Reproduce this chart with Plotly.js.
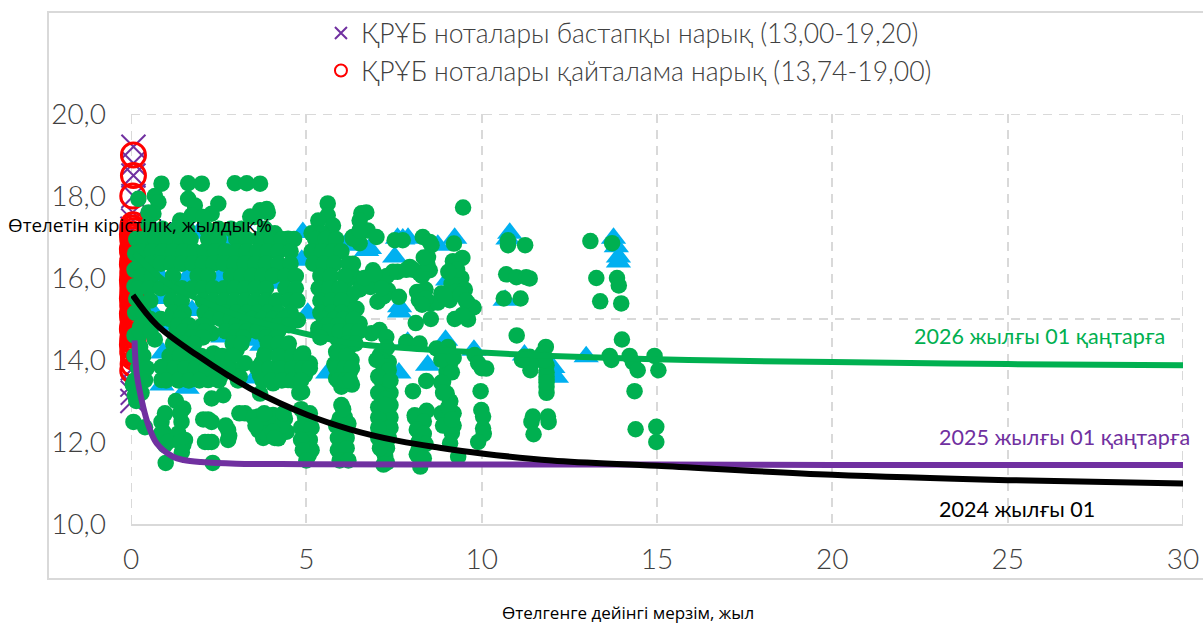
<!DOCTYPE html>
<html><head><meta charset="utf-8"><script src="https://cdn.plot.ly/plotly-3.0.1.min.js"></script>
<style>html,body{margin:0;padding:0;background:#fff;overflow:hidden}</style></head>
<body><div id="chart" style="width:1203px;height:623px"></div>
<script>
const curve2026X=[0.1,1,2,3,4.2,5.7,6.24,8,10,12,15.9,20,25,30];
const curve2026Y=[16.6,15.9,15.45,15.1,14.8,14.5,14.41,14.28,14.18,14.1,14.0,13.95,13.9,13.87];
const curve2025X=[0.1,0.16,0.35,0.5,0.73,1.2,1.5,2,3,5,10,15,20,25,30];
const curve2025Y=[14.48,13.68,12.85,12.4,11.97,11.64,11.56,11.51,11.47,11.46,11.45,11.45,11.44,11.44,11.44];
const curve2024X=[0.05,0.74,1.88,3.39,5,6.24,7.66,8.8,10,12,15,20,25,30];
const curve2024Y=[15.58,14.85,14.12,13.31,12.67,12.31,12.02,11.86,11.72,11.55,11.42,11.2,11.07,10.99];
const redX=[0.07,0.07,0.05,0.06,0.05,0.07,0.04,0.06,0.05,0.07,0.06,0.04,0.05,0.07,0.06,0.05,0.04,0.07,0.06,0.05,0.07,0.04,0.06,0.05,0.07,0.05,0.06,0.04,0.07,0.05,0.06,0.07,0.04,0.05,0.06,0.07,0.05,0.04,0.06,0.07,0.05,0.06,0.04,0.07,0.05,0.06,0.07,0.06,0.05];
const redY=[19.0,18.5,18.0,17.3,17.22,17.15,17.07,17.0,16.93,16.85,16.78,16.7,16.62,16.55,16.47,16.4,16.33,16.25,16.18,16.1,16.03,15.95,15.88,15.8,15.73,15.65,15.58,15.5,15.43,15.35,15.28,15.2,15.13,15.05,14.98,14.9,14.83,14.75,14.68,14.6,14.52,14.45,14.37,14.3,14.22,14.15,14.07,13.9,13.74];
const purpleX=[0.07,0.07,0.07,0.07,0.05,0.06,0.04,0.05,0.06,0.05,0.04,0.06,0.05,0.04,0.05,0.04];
const purpleY=[19.2,18.8,18.5,18.0,17.6,17.4,17.2,17.0,16.8,16.5,16.2,15.9,13.8,13.4,13.2,13.0];
const blueX=[10.8,10.75,10.67,13.76,13.84,13.9,13.9,12.98,11.22,12.03,12.13,8.97,7.89,9.78,8.46,7.64,9.23,7.6,7.9,7.75,7.52,8.75,6.8,7.66,7.66,9.03,1.91,2.76,4.9,4.87,6.1,6.72,4.19,0.88,1.6,2.54,0.88,0.54,1.74,5.04,0.97,2.62,0.91,0.88,1.6,1.11,3.59,3.53,4.73,5.61,3.73];
const blueY=[17.09,16.95,15.46,16.97,16.76,16.51,16.39,14.08,14.12,13.82,13.58,14.48,14.43,14.24,13.87,13.68,16.97,16.97,16.97,16.95,16.51,16.8,16.72,15.3,15.17,15.95,17.09,16.87,17.11,16.43,16.8,16.67,15.87,16.0,16.02,16.02,15.5,15.26,15.21,15.14,14.85,14.56,14.17,13.39,13.31,13.63,14.48,13.56,13.92,13.68,14.36];
const greenX=[9.47,10.75,10.75,11.24,10.7,10.99,11.27,11.37,10.63,11.11,11.0,11.37,11.22,11.39,11.56,11.83,11.74,11.85,11.85,11.85,11.85,11.46,11.89,11.91,11.42,11.48,13.1,13.72,13.27,13.86,13.91,13.38,13.98,14.0,13.65,13.7,14.22,14.31,14.45,14.93,15.04,14.36,14.39,14.98,14.98,
6.57,6.71,6.52,6.75,6.32,7.0,6.52,7.52,7.75,8.32,8.52,8.57,9.21,9.45,9.18,8.47,8.52,8.23,7.95,7.47,6.9,6.33,6.38,6.14,9.18,9.42,9.14,9.52,9.23,8.85,9.09,9.61,9.77,9.23,9.61,8.55,8.55,8.12,8.16,8.4,8.21,7.33,7.64,7.03,6.83,6.52,6.14,6.43,6.52,6.14,6.86,7.09,7.28,7.85,8.23,8.71,9.04,
9.8,9.9,10.13,10.0,9.97,9.99,10.04,10.04,10.06,9.9,9.33,
7.1,7.35,7.2,7.1,7.3,7.25,7.15,7.3,7.2,7.15,7.25,7.2,
7.3,7.15,7.3,7.2,7.25,7.2,7.2,7.1,7.25,7.2,7.3,
8.9,9.1,9.0,8.9,9.0,9.1,8.95,9.05,9.15,9.1,8.09,8.43,8.2,8.25,8.2,8.25,8.25,8.04,8.42,
6.0,6.1,6.0,6.04,5.95,6.29,6.24,6.1,6.0,6.0,6.05,6.0,
4.88,4.96,5.0,4.96,5.07,3.63,3.63,3.77,4.05,4.39,4.44,4.2,3.96,3.25,
4.91,5.1,4.96,4.48,4.48,4.48,3.72,3.68,4.05,3.68,4.1,3.96,3.82,4.33,5.34,4.76,3.25,
0.99,2.33,0.07,0.4,0.87,0.92,0.97,1.28,1.49,1.44,1.35,1.49,1.54,2.06,2.3,2.11,2.3,2.77,2.77,3.09,2.3,2.63,0.14,0.4,0.11,0.87,0.87,1.3,1.63,1.3,1.59,1.49,1.3,0.68,0.21,0.26,0.26,2.2,2.54,2.91,3.1,2.73,2.35,3.01,2.82,2.16,1.97,2.3,
0.87,1.63,2.02,2.96,3.3,3.68,0.21,0.68,1.63,1.82,0.78,2.49,2.3,1.73,1.4,0.64,2.06,3.68,3.87,3.4,3.53,3.82,4.48,4.1,5.61,5.61,5.34,5.76,5.15,5.43,6.33,6.52,3.9,
6.3,6.15,6.3,6.3,6.65,7.15,7.3,6.95,7.6,7.85,8.05,8.3,8.45,8.35,9.3,9.05,7.2,8.75,8.95,9.4,9.55,9.45,8.4,8.3,7.15,
7.4,7.05,7.4,7.05,7.4,7.05,7.4,7.05,7.35,7.05,7.3,7.1,7.0,7.35,7.05,7.4,7.25,7.25,
8.85,9.15,9.2,8.85,9.2,8.85,9.2,8.9,9.05,9.15,9.1,8.9,
8.1,8.35,8.15,8.35,8.2,8.4,8.15,8.35,
5.85,6.2,6.1,5.9,6.15,5.9,6.15,5.95,6.2,6.05,5.9,6.2,5.85,6.25,5.8,5.85,6.3,6.0,
4.85,5.15,5.1,4.85,5.15,4.9,5.0,5.1,4.85,4.8,
3.5,3.75,3.85,4.15,4.3,4.05,3.55,4.35,3.8,4.1,
0.97,0.85,1.05,1.4,1.4,1.45,2.2,2.2,2.8,2.7,
11.85,11.85,11.85,11.8,11.4,11.15,
0.3,0.05,0.2,0.3,0.15,0.5,0.5,0.15,0.12,0.1,0.1,0.15,0.12,0.1];
const greenY=[17.72,16.92,16.8,16.8,16.09,16.02,16.02,15.99,15.5,15.5,14.6,14.08,14.08,13.75,14.0,14.32,14.16,13.87,13.51,13.35,13.2,12.62,12.62,12.49,12.49,12.19,16.9,16.85,16.0,16.0,15.82,15.43,15.38,14.5,14.1,14.0,14.1,13.95,13.75,14.1,13.75,13.24,12.31,12.37,12.0,
17.58,17.6,17.4,17.16,17.0,17.0,16.85,16.92,16.92,17.0,16.88,16.8,16.84,16.49,16.41,16.51,16.19,16.11,16.27,16.15,16.19,16.35,16.02,15.94,16.11,16.0,15.86,15.72,15.66,15.62,15.46,15.38,15.28,15.0,14.99,15.38,15.0,14.9,15.66,15.72,15.46,15.7,15.54,15.42,15.78,15.72,15.54,15.25,14.89,14.89,14.65,14.73,14.56,14.44,14.4,14.28,14.32,
14.12,13.92,13.79,13.8,13.24,12.78,12.62,12.33,12.2,12.0,11.64,
14.12,13.95,13.75,13.55,13.18,12.86,12.62,12.37,12.17,11.88,11.64,11.45,
14.3,14.0,13.85,13.4,13.0,12.75,12.5,12.25,12.05,11.75,11.5,
14.16,13.92,13.71,13.47,13.19,12.98,12.62,12.46,12.22,11.97,12.65,12.76,12.46,12.13,11.8,11.56,11.4,13.24,13.49,
12.9,12.29,11.97,11.68,12.57,14.0,13.71,13.51,14.73,14.41,14.08,13.75,
13.22,12.62,12.29,11.97,11.68,12.62,12.29,12.1,12.66,12.57,12.25,12.09,12.37,12.7,
14.16,13.92,13.63,14.24,13.92,13.51,13.92,13.63,13.43,13.18,13.75,14.48,14.16,14.0,14.77,14.97,13.92,
11.49,11.49,12.49,12.36,12.49,12.25,11.92,13.0,12.82,12.49,12.21,11.92,12.05,12.55,12.49,12.0,12.0,12.29,12.05,12.7,13.06,13.14,13.51,13.51,13.14,13.83,13.51,14.16,13.51,13.59,13.92,14.56,14.77,14.5,14.56,14.32,14.8,13.51,13.59,13.75,13.59,14.08,14.16,14.24,14.73,14.73,14.8,14.65,
18.3,18.31,18.3,18.31,18.31,18.3,17.93,18.0,17.93,17.77,17.85,17.81,17.57,17.53,17.4,17.57,17.49,17.65,17.68,17.5,17.49,17.2,16.96,17.09,17.82,17.53,17.4,17.28,17.09,17.09,16.96,17.16,17.6,
14.7,14.4,15.2,15.6,16.0,15.95,16.05,16.1,16.15,16.2,16.2,16.05,16.35,16.5,16.2,16.15,15.55,15.4,15.55,15.6,15.45,15.1,15.5,15.35,15.75,
13.2,13.2,12.9,12.85,12.6,12.6,12.35,12.35,12.1,12.1,11.85,11.85,14.0,13.75,13.6,13.5,13.05,12.9,
14.0,13.7,14.05,13.45,12.7,12.7,12.4,12.4,12.85,12.55,13.0,13.2,
12.6,12.5,12.3,12.2,12.0,11.95,11.7,11.6,
12.4,12.45,12.6,12.1,12.1,11.8,11.85,11.55,11.55,12.8,14.5,14.3,14.2,13.9,13.9,13.55,13.4,13.35,
12.35,12.35,12.05,12.05,11.8,11.8,11.55,12.7,12.8,13.2,
12.6,12.45,12.2,12.45,12.4,12.25,12.4,12.7,12.7,12.1,
12.7,12.2,12.0,12.7,12.0,11.75,12.55,12.0,12.15,12.4,
13.7,13.6,13.45,14.0,13.9,14.0,
13.75,13.4,13.3,13.2,13.0,17.6,17.3,16.95,16.6,16.2,15.8,15.5,15.15,14.6];
const massRowY=[17.2,16.95,16.65,16.35,16.05,15.75,15.45,15.15,15.0,14.85,14.7,14.55,14.4,14.1,13.8,13.5];
const massRowX=[
[0.55,0.9,1.3,1.6,2.15,2.5,2.85,3.15],
[0.35,0.7,1.05,1.4,1.7,2.2,2.5,3.0,3.3,3.65,4.0,4.3,4.65,5.25,5.55,5.85],
[0.3,0.6,0.9,1.2,1.5,1.8,2.1,2.4,2.7,3.0,3.3,3.6,3.9,4.2,4.55,5.15,5.45,5.75,6.0],
[0.25,0.55,0.85,1.15,1.45,1.75,2.05,2.35,2.65,2.95,3.25,3.55,3.85,4.2,4.55,5.2,5.5,5.8,6.2],
[0.3,0.6,1.2,1.9,2.2,2.85,3.15,3.45,3.75,4.05,4.4,4.7,5.4,5.7,6.1],
[0.2,0.5,0.85,1.15,1.45,1.75,2.05,2.35,2.65,2.95,3.25,3.55,3.85,4.4,4.7,5.35,5.65,5.95],
[0.55,1.15,1.45,2.05,2.35,2.65,2.95,3.25,3.55,3.85,4.15,4.5,4.75,5.4,5.7,6.0],
[0.35,1.2,1.5,2.1,2.4,2.7,3.0,3.3,3.6,3.9,4.2,4.55,5.4,5.7,6.0],
[0.55,0.85,1.1,1.4,2.25,2.55,2.85,3.15,3.45,3.75,4.05,4.35,5.5,5.8,6.05,6.35],
[0.3,1.35,1.65,2.05,3.0,3.3,3.6,3.9,4.2,4.5,5.6,5.9],
[0.25,0.55,1.5,1.8,2.1,2.7,3.0,3.3,3.6,3.9,4.2,5.35,5.65,5.95,6.25,6.5],
[1.75,2.05,2.95,3.2,3.85,4.15,5.4],
[1.2,1.5,1.8,2.9,3.15,3.9,4.2,4.5,6.15,6.4],
[0.1,0.35,1.1,1.4,1.7,2.0,2.3,2.6,2.9,3.8,4.2,4.6,4.85,5.9,6.15],
[0.2,0.45,0.95,1.25,1.55,1.85,2.15,2.45,2.75,3.6,3.95,4.25,4.6,4.9,5.1,5.85,6.1,6.3],
[0.1,0.3,1.0,1.35,1.65,1.95,2.5,3.05,3.75,4.0,4.3,4.6,4.85,5.9,6.1,6.25]];
const xTickVals=[0,5,10,15,20,25,30];
const yTickVals=[10,12,14,16,18,20];
const labelText2026="2026 жылғы 01 қаңтарға";
const labelText2025="2025 жылғы 01 қаңтарға";
const labelText2024="2024 жылғы 01";
const legendPurple="ҚРҰБ ноталары бастапқы нарық (13,00-19,20)";
const legendRed="ҚРҰБ ноталары қайталама нарық (13,74-19,00)";
const xAxisTitle="Өтелгенге дейінгі мерзім, жыл";
const yAxisTitle="Өтелетін кірістілік, жылдық%";

const allGreenX=greenX.slice(), allGreenY=greenY.slice();
massRowY.forEach((y,i)=>massRowX[i].forEach(x=>{allGreenX.push(x);allGreenY.push(y);}));

const GREEN='#00B050',PURPLE='#7030A0',RED='#FF0000',BLUE='#00B0F0',GRID='#D9D9D9',DASH='9px,7px';
const traces=[
{type:'scatter',mode:'markers',x:purpleX,y:purpleY,name:legendPurple,cliponaxis:false,marker:{symbol:'x-thin-open',size:24,color:PURPLE,line:{color:PURPLE,width:2}}},
{type:'scatter',mode:'markers',x:redX,y:redY,name:legendRed,cliponaxis:false,marker:{symbol:'circle-open',size:24,color:RED,line:{color:RED,width:3}}},
{type:'scatter',mode:'markers',x:blueX,y:blueY,showlegend:false,cliponaxis:false,marker:{symbol:'triangle-up',size:22,color:BLUE}},
{type:'scatter',mode:'markers',x:allGreenX,y:allGreenY,showlegend:false,cliponaxis:false,marker:{symbol:'circle',size:16.5,color:GREEN}},
{type:'scatter',mode:'lines',x:curve2026X,y:curve2026Y,showlegend:false,line:{color:GREEN,width:6,shape:'spline'}},
{type:'scatter',mode:'lines',x:curve2025X,y:curve2025Y,showlegend:false,line:{color:PURPLE,width:6,shape:'spline'}},
{type:'scatter',mode:'lines',x:curve2024X,y:curve2024Y,showlegend:false,line:{color:'#000000',width:6,shape:'spline'}}
];
const lato={family:'Lato, sans-serif',weight:300,color:'#404040',size:28};
const gridLine=(x0,y0,x1,y1)=>({type:'line',xref:'x',yref:'y',x0,y0,x1,y1,layer:'below',line:{color:GRID,width:2,dash:DASH}});
const layout={
width:1203,height:623,paper_bgcolor:'#fff',plot_bgcolor:'#fff',separators:', ',
margin:{l:131,r:19.5,t:113.5,b:99,pad:0,autoexpand:false},
font:{family:'Lato, sans-serif'},
hovermode:false,
xaxis:{range:[0,30],automargin:false,tickvals:xTickVals,tickformat:'d',tickfont:lato,ticklabelstandoff:9,ticks:'',showgrid:true,gridcolor:GRID,gridwidth:2,griddash:DASH,zeroline:false,showline:true,linecolor:GRID,linewidth:2},
yaxis:{range:[10,20],automargin:false,tickvals:yTickVals,tickformat:'.1f',tickfont:lato,ticklabelstandoff:24,ticks:'',showgrid:false,zeroline:false,showline:false,
 minor:{dtick:5,tick0:0,showgrid:true,gridcolor:GRID,gridwidth:2,griddash:DASH,ticks:''}},
legend:{xref:'container',yref:'container',x:0.2668,y:0.985,xanchor:'left',yanchor:'top',bgcolor:'rgba(0,0,0,0)',font:{family:'Lato, sans-serif',weight:300,size:26.5,color:'#404040'},itemsizing:'constant',tracegroupgap:0,itemclick:false},
shapes:[{type:'rect',xref:'paper',yref:'paper',x0:-0.0789,x1:1.03,y0:-0.134,y1:1.2485,line:{color:GRID,width:2},layer:'below'},
gridLine(0,20,30,20),gridLine(0,10,0,20),gridLine(30,10,30,20)],
annotations:[
{xref:'paper',yref:'paper',x:0.7425,y:0.459,xanchor:'left',yanchor:'middle',text:labelText2026,showarrow:false,font:{family:'Lato, sans-serif',size:21.5,color:GREEN}},
{xref:'paper',yref:'paper',x:0.766,y:0.212,xanchor:'left',yanchor:'middle',text:labelText2025,showarrow:false,font:{family:'Lato, sans-serif',size:21.5,color:PURPLE}},
{xref:'paper',yref:'paper',x:0.766,y:0.036,xanchor:'left',yanchor:'middle',text:labelText2024,showarrow:false,font:{family:'Lato, sans-serif',size:21.5,color:'#000'}},
{xref:'paper',yref:'paper',x:-0.119,y:0.73,xanchor:'left',yanchor:'middle',text:yAxisTitle,showarrow:false,font:{family:'Open Sans, sans-serif',size:18.8,color:'#000'}},
{xref:'paper',yref:'paper',x:0.4722,y:-0.2155,xanchor:'center',yanchor:'middle',text:xAxisTitle,showarrow:false,font:{family:'Open Sans, sans-serif',size:17,color:'#000'}}
]};
Plotly.newPlot('chart',traces,layout,{displayModeBar:false,staticPlot:true});
</script></body></html>
